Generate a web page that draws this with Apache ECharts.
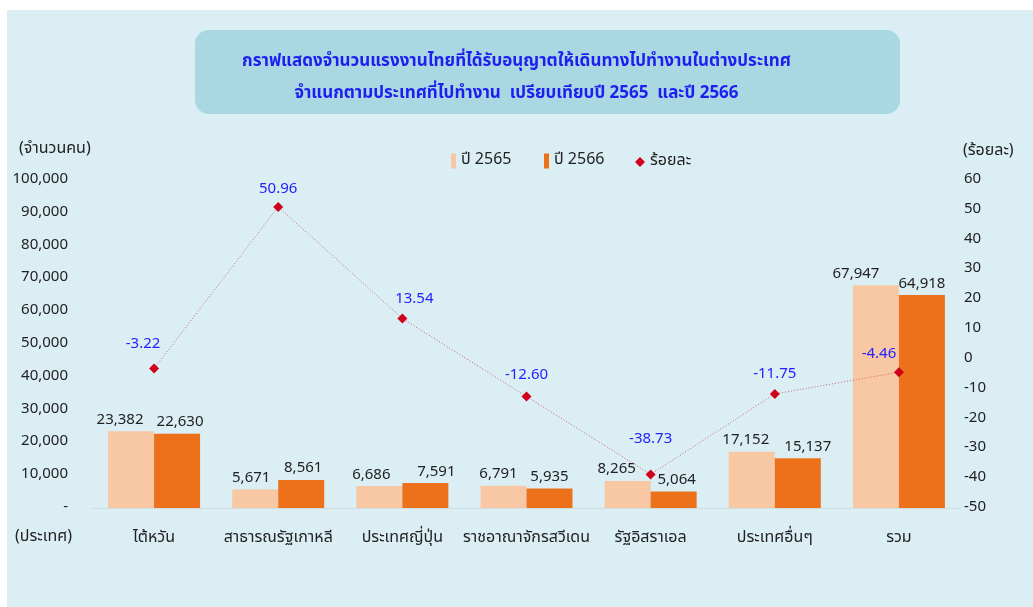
<!DOCTYPE html>
<html><head><meta charset="utf-8">
<script src="https://cdn.jsdelivr.net/npm/echarts@6/dist/echarts.min.js"></script>
<style>html,body{margin:0;padding:0;background:#fff}#c{width:1033px;height:607px}</style>
</head><body><div id="c"></div>
<script>
const categories = ['ไต้หวัน','สาธารณรัฐเกาหลี','ประเทศญี่ปุ่น','ราชอาณาจักรสวีเดน','รัฐอิสราเอล','ประเทศอื่นๆ','รวม'];
const y2565 = [23382, 5671, 6686, 6791, 8265, 17152, 67947];
const y2566 = [22630, 8561, 7591, 5935, 5064, 15137, 64918];
const pct = [-3.22, 50.96, 13.54, -12.60, -38.73, -11.75, -4.46];
const leftTicks = ['-','10,000','20,000','30,000','40,000','50,000','60,000','70,000','80,000','90,000','100,000'];
const seriesNames = ['ปี 2565','ปี 2566','ร้อยละ'];
const titleLines = ['กราฟแสดงจำนวนแรงงานไทยที่ได้รับอนุญาตให้เดินทางไปทำงานในต่างประเทศ','จำแนกตามประเทศที่ไปทำงาน  เปรียบเทียบปี 2565  และปี 2566'];

// label placement tweaks (style only)
const off2565 = [[-11,0],[-4,0],[-8,0],[-5,0],[-11,0],[-6,0],[-20,0]];
const off2566 = [[3,0],[2,0],[11,0],[0,0],[3,0],[10,0],[0,0]];
const offPct = [[-11,-3],[0,4],[12,2],[0,0],[0,-14],[0,2],[-20,3]];

const FONT = '"Noto Sans Thai","Tahoma","Noto Sans","DejaVu Sans",sans-serif';
const chart = echarts.init(document.getElementById('c'));
const fmt = v => v.toLocaleString('en-US');

chart.setOption({
  backgroundColor: '#ffffff',
  textStyle: {fontFamily: FONT},
  graphic: [
    {type:'rect', left:7, top:10, shape:{width:1026, height:597}, style:{fill:'#daeef4'}, z:-10},
    {type:'rect', left:195, top:30, shape:{width:705, height:84, r:14}, style:{fill:'#a9d8e3'}, z:-5},
    {type:'text', left:'center', top:54, style:{text:titleLines[0], fill:'#1e1ef0', font:'bold 17px '+FONT}},
    {type:'text', left:'center', top:86, style:{text:titleLines[1], fill:'#1e1ef0', font:'bold 17px '+FONT}},
    {type:'text', left:19, top:142, style:{text:'(จำนวนคน)', fill:'#222', font:'16px '+FONT}},
    {type:'text', left:963, top:144, style:{text:'(ร้อยละ)', fill:'#222', font:'16px '+FONT}},
    {type:'text', left:15, top:530, style:{text:'(ประเทศ)', fill:'#222', font:'16px '+FONT}}
  ],
  legend: [
    {data:[seriesNames[0]], left:446, top:148, icon:'rect', itemWidth:5, itemHeight:15, itemGap:10, textStyle:{fontSize:16, color:'#222', fontFamily:FONT}},
    {data:[seriesNames[1]], left:539, top:148, icon:'rect', itemWidth:5, itemHeight:15, textStyle:{fontSize:16, color:'#222', fontFamily:FONT}},
    {data:[seriesNames[2]], left:630, top:149, icon:'diamond', itemWidth:10, itemHeight:10, itemGap:4, textStyle:{fontSize:16, color:'#222', fontFamily:FONT}}
  ],
  grid: {left:92, right:72, top:180, bottom:99},
  xAxis: {
    type:'category', data:categories,
    axisLine:{show:true, lineStyle:{color:'#d4dde0', width:1}},
    axisTick:{show:false},
    axisLabel:{interval:0, fontSize:16, color:'#222', margin:23, fontFamily:FONT}
  },
  yAxis: [
    {type:'value', min:0, max:100000, interval:10000,
     axisLine:{show:false}, axisTick:{show:false}, splitLine:{show:false},
     axisLabel:{fontSize:15, color:'#222', margin:24, fontFamily:FONT,
       formatter: v => leftTicks[Math.round(v/10000)]}},
    {type:'value', min:-50, max:60, interval:10, position:'right',
     axisLine:{show:false}, axisTick:{show:false}, splitLine:{show:false},
     axisLabel:{fontSize:15, color:'#222', margin:3, align:'left', fontFamily:FONT}}
  ],
  series: [
    {name:seriesNames[0], type:'bar', barWidth:46, barGap:'0%',
     data:y2565.map((v,i)=>({value:v, label:{offset:off2565[i]}})),
     itemStyle:{color:'#f8c8a4'},
     label:{show:true, position:'top', distance:3, fontSize:15, color:'#222', formatter:p=>fmt(p.value)}},
    {name:seriesNames[1], type:'bar', barWidth:46, barGap:'0%',
     data:y2566.map((v,i)=>({value:v, label:{offset:off2566[i]}})),
     itemStyle:{color:'#ec711a'},
     label:{show:true, position:'top', distance:3, fontSize:15, color:'#222', formatter:p=>fmt(p.value)}},
    {name:seriesNames[2], type:'line', yAxisIndex:1,
     data:pct.map((v,i)=>({value:v, label:{offset:offPct[i]}})),
     symbol:'diamond', symbolSize:10,
     itemStyle:{color:'#d0021b'},
     lineStyle:{color:'#d0606a', width:1, type:[1,2]},
     label:{show:true, position:'top', distance:8, fontSize:15, color:'#2222ff', formatter:p=>p.value.toFixed(2)},
     z:5}
  ]
});
</script></body></html>
